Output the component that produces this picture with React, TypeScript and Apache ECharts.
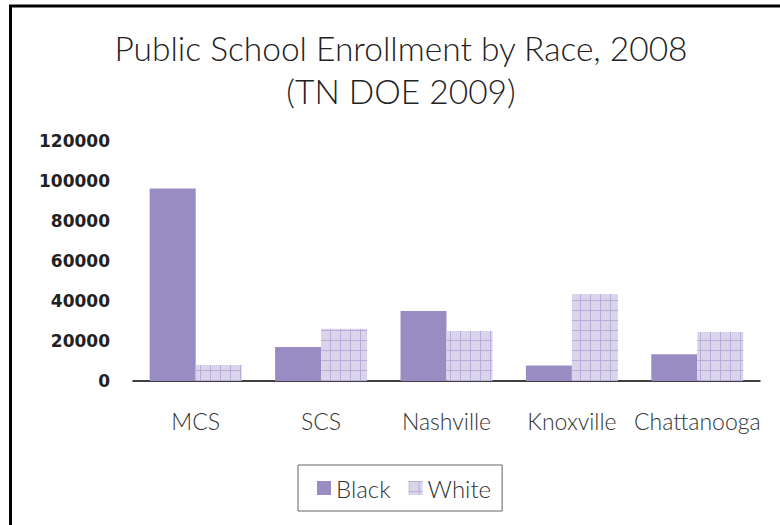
import React, { useEffect, useRef } from "react";
import * as echarts from "echarts";

const categories = ["MCS", "SCS", "Nashville", "Knoxville", "Chattanooga"];
const blackValues = [96300, 17000, 35000, 7700, 13400];
const whiteValues = [8000, 26100, 25000, 43500, 24500];
const seriesNames = ["Black", "White"];
const titleLines = ["Public School Enrollment by Race, 2008", "(TN DOE 2009)"];
const yMax = 120000;
const yInterval = 20000;

function makePattern(): string {
  const c = document.createElement("canvas");
  c.width = 10;
  c.height = 10;
  const ctx = c.getContext("2d")!;
  ctx.fillStyle = "#dcd7eb";
  ctx.fillRect(0, 0, 10, 10);
  ctx.fillStyle = "#d3cce6";
  for (let i = 0; i < 10; i += 2) {
    for (let j = (i / 2) % 2; j < 10; j += 2) ctx.fillRect(i, j, 1, 1);
  }
  ctx.fillStyle = "#b7acd8";
  ctx.fillRect(0, 0, 10, 1);
  ctx.fillRect(0, 0, 1, 10);
  return c.toDataURL();
}

export default function App() {
  const ref = useRef<HTMLDivElement>(null);
  useEffect(() => {
    document.body.style.margin = "0";
    const chart = echarts.init(ref.current!, null, { renderer: "svg" });
    const pattern = { image: makePattern(), repeat: "repeat" } as any;
    const catFont = "Lato, 'Noto Sans', sans-serif";
    const titleStyle = {
      fontFamily: catFont,
      fontSize: 33.5,
      fontWeight: 300,
      fill: "#222",
      textAlign: "center",
      textVerticalAlign: "middle",
    };
    chart.setOption({
      animation: false,
      backgroundColor: "#ffffff",
      legend: {
        data: seriesNames,
        left: 298,
        top: 465,
        orient: "horizontal",
        icon: "rect",
        itemWidth: 14,
        itemHeight: 14,
        itemGap: 18,
        padding: [10, 11, 10, 19],
        borderColor: "#666",
        borderWidth: 1,
        textStyle: {
          fontFamily: catFont,
          fontSize: 24,
          fontWeight: 300,
          color: "#333",
          lineHeight: 26,
        },
      },
      grid: { left: 133, right: 20, top: 141, bottom: 144 },
      xAxis: {
        type: "category",
        data: categories,
        axisLine: { show: true, lineStyle: { color: "#000", width: 1.5 } },
        axisTick: { show: false },
        axisLabel: {
          interval: 0,
          hideOverlap: false,
          margin: 28,
          fontFamily: catFont,
          fontSize: 23,
          fontWeight: 300,
          color: "#333",
        },
      },
      yAxis: {
        type: "value",
        min: 0,
        max: yMax,
        interval: yInterval,
        splitLine: { show: false },
        axisLine: { show: false },
        axisTick: { show: false },
        axisLabel: {
          margin: 23,
          formatter: (v: number) => String(v),
          fontFamily: "'DejaVu Sans', sans-serif",
          fontWeight: "bold",
          fontSize: 17,
          color: "#222",
        },
      },
      series: [
        {
          name: seriesNames[0],
          type: "bar",
          data: blackValues,
          barWidth: 46,
          barGap: "0%",
          itemStyle: { color: "#998cc2" },
        },
        {
          name: seriesNames[1],
          type: "bar",
          data: whiteValues,
          barWidth: 46,
          barGap: "0%",
          itemStyle: { color: pattern },
        },
      ],
      graphic: [
        {
          type: "text",
          x: 401,
          y: 48,
          style: { ...titleStyle, text: titleLines[0] },
        },
        {
          type: "text",
          x: 401,
          y: 91,
          style: { ...titleStyle, text: titleLines[1] },
        },
        {
          type: "line",
          shape: { x1: 9, y1: 6, x2: 780, y2: 6 },
          style: { stroke: "#000", lineWidth: 3 },
        },
        {
          type: "line",
          shape: { x1: 10.5, y1: 5, x2: 10.5, y2: 525 },
          style: { stroke: "#000", lineWidth: 3 },
        },
      ],
    });
    return () => chart.dispose();
  }, []);
  return (
    <div
      ref={ref}
      style={{ position: "fixed", left: 0, top: 0, width: 780, height: 525 }}
    />
  );
}
